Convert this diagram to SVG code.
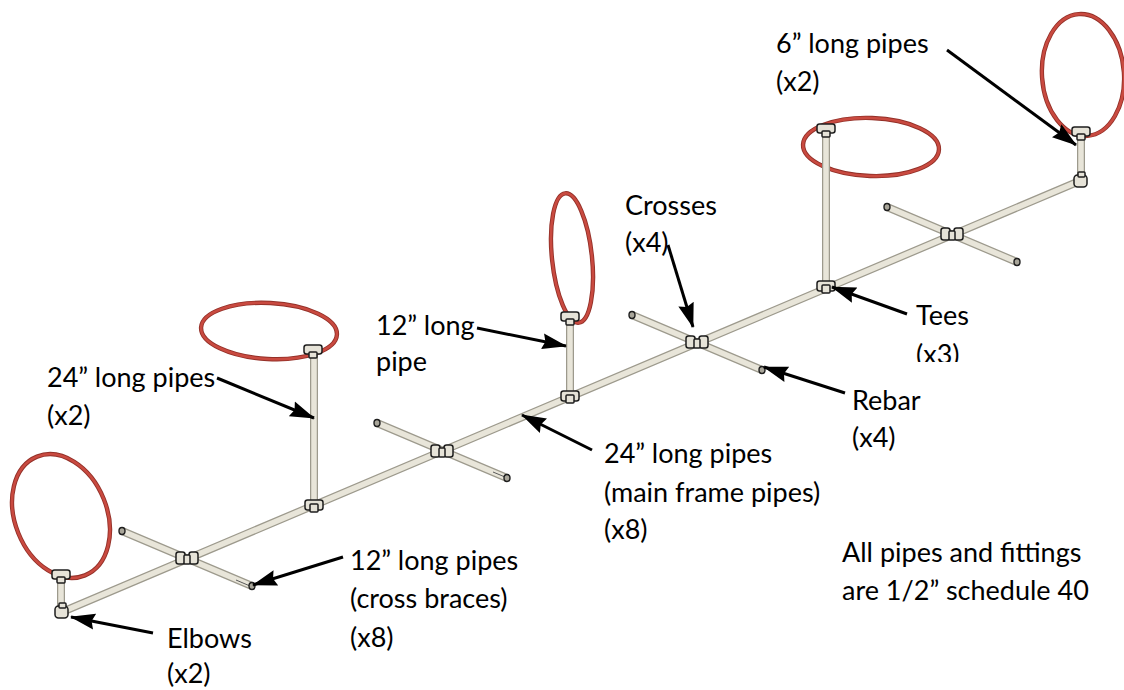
<svg xmlns="http://www.w3.org/2000/svg" xmlns:xlink="http://www.w3.org/1999/xlink" width="1124" height="690" viewBox="0 0 1124 690">
  <defs>
    <style>
      .pipe-o{fill:none;stroke:#9d9a8d;stroke-width:8;stroke-linecap:butt}
      .pipe{fill:none;stroke:#e8e5d9;stroke-width:5.5;stroke-linecap:butt}
      .hoop-o{fill:none;stroke:#933028;stroke-width:4.4}
      .hoop{fill:none;stroke:#c94a40;stroke-width:2.6}
      .fit{fill:#e6e3d8;stroke:#1e1e1e;stroke-width:1.5}
      .cap{fill:#a9a69a;stroke:#1e1e1e;stroke-width:1.4}
      .lbl{font-family:Lato,"Liberation Sans",sans-serif;font-size:27px;fill:#000}
      .arrow{fill:none;stroke:#000;stroke-width:3}
    </style>
    <marker id="head" markerWidth="26" markerHeight="18" refX="24" refY="9" orient="auto" markerUnits="userSpaceOnUse">
      <path d="M0,1 L25,9 L0,17 L3,9 Z" fill="#000"/>
    </marker>
    <!-- pipe centre lines: main run, uprights and cross braces -->
    <path id="pipeRun" d="M62,612 L1082,180
      M61,610 V578 M314,504 V354 M570,395 V321 M826,286 V131 M1081,180 V134
      M122,531 L252,586 M377,423 L507,478 M632,315 L762,370 M887,207 L1017,262"/>
    <!-- fitting shapes -->
    <g id="crossFit">
      <rect x="-11" y="-6" width="9" height="12" rx="2.5"/>
      <rect x="2" y="-6" width="9" height="12" rx="2.5"/>
      <rect x="-3" y="-3" width="6" height="9" rx="1"/>
    </g>
    <g id="teeFit">
      <rect x="-9" y="-5" width="18" height="10" rx="2.5"/>
      <rect x="-4" y="-1" width="8" height="8" rx="1"/>
    </g>
    <g id="topTee">
      <rect x="-9" y="-5" width="18" height="9" rx="2.5"/>
      <rect x="-4" y="2" width="8" height="6" rx="1"/>
    </g>
    <g id="elbowFit">
      <rect x="-7" y="-6" width="13" height="12" rx="3.5"/>
      <rect x="-3" y="-9" width="7" height="5" rx="1"/>
    </g>
  </defs>

  <rect width="1124" height="690" fill="#ffffff"/>

  <!-- red hoops -->
  <g id="hoops">
    <g transform="rotate(-22 61 516)">
      <ellipse class="hoop-o" cx="61" cy="516" rx="46" ry="64"/>
      <ellipse class="hoop" cx="61" cy="516" rx="46" ry="64"/>
    </g>
    <g transform="rotate(3 269 331)">
      <ellipse class="hoop-o" cx="269" cy="331" rx="68" ry="28"/>
      <ellipse class="hoop" cx="269" cy="331" rx="68" ry="28"/>
    </g>
    <g transform="rotate(-6 572 258)">
      <ellipse class="hoop-o" cx="572" cy="258" rx="20" ry="65"/>
      <ellipse class="hoop" cx="572" cy="258" rx="20" ry="65"/>
    </g>
    <g transform="rotate(2 871 147)">
      <ellipse class="hoop-o" cx="871" cy="147" rx="68" ry="29"/>
      <ellipse class="hoop" cx="871" cy="147" rx="68" ry="29"/>
    </g>
    <g transform="rotate(-4 1083 75)">
      <ellipse class="hoop-o" cx="1083" cy="75" rx="41" ry="61"/>
      <ellipse class="hoop" cx="1083" cy="75" rx="41" ry="61"/>
    </g>
  </g>

  <!-- PVC pipe frame -->
  <g id="frame">
    <use xlink:href="#pipeRun" class="pipe-o"/>
    <use xlink:href="#pipeRun" class="pipe"/>
    <!-- rebar showing through the brace ends -->
    <g stroke="#5a5a5a" stroke-width="1">
      <line x1="236" y1="580" x2="250" y2="586"/>
      <line x1="493" y1="472" x2="505" y2="477"/>
    </g>
    <g class="cap">
      <ellipse cx="122" cy="531" rx="3" ry="3.5"/>
      <ellipse cx="252" cy="586" rx="3" ry="3.5"/>
      <ellipse cx="377" cy="423" rx="3" ry="3.5"/>
      <ellipse cx="507" cy="478" rx="3" ry="3.5"/>
      <ellipse cx="632" cy="315" rx="3" ry="3.5"/>
      <ellipse cx="762" cy="370" rx="3" ry="3.5"/>
      <ellipse cx="887" cy="207" rx="3" ry="3.5"/>
      <ellipse cx="1017" cy="262" rx="3" ry="3.5"/>
    </g>
  </g>

  <!-- fittings -->
  <g id="fittings" class="fit">
    <use xlink:href="#elbowFit" x="62" y="612"/>
    <use xlink:href="#elbowFit" x="1081" y="181"/>
    <use xlink:href="#crossFit" x="187" y="558"/>
    <use xlink:href="#crossFit" x="442" y="451"/>
    <use xlink:href="#crossFit" x="697" y="342"/>
    <use xlink:href="#crossFit" x="952" y="234"/>
    <use xlink:href="#teeFit" x="314" y="505"/>
    <use xlink:href="#teeFit" x="570" y="396"/>
    <use xlink:href="#teeFit" x="826" y="286"/>
    <use xlink:href="#topTee" x="61" y="575"/>
    <use xlink:href="#topTee" x="313" y="350"/>
    <use xlink:href="#topTee" x="570" y="317"/>
    <use xlink:href="#topTee" x="826" y="129"/>
    <use xlink:href="#topTee" x="1081" y="132"/>
  </g>

  <!-- leader arrows -->
  <g id="connectors" class="arrow" marker-end="url(#head)">
    <line x1="947" y1="50" x2="1076" y2="145"/>
    <line x1="668" y1="245" x2="693" y2="327"/>
    <line x1="477" y1="328" x2="566" y2="346"/>
    <line x1="217" y1="378" x2="314" y2="418"/>
    <line x1="907" y1="314" x2="832" y2="287"/>
    <line x1="845" y1="393" x2="764" y2="367"/>
    <line x1="592" y1="450" x2="522" y2="415"/>
    <line x1="343" y1="557" x2="253" y2="585"/>
    <line x1="153" y1="633" x2="71" y2="617"/>
  </g>

  <!-- labels -->
  <g id="label-six" class="lbl">
    <text x="776" y="53">6” long pipes</text>
    <text x="776" y="91">(x2)</text>
  </g>
  <g id="label-crosses" class="lbl">
    <text x="625" y="215">Crosses</text>
    <text x="625" y="252">(x4)</text>
  </g>
  <g id="label-twelve" class="lbl">
    <text x="376" y="335">12” long</text>
    <text x="376" y="371">pipe</text>
  </g>
  <g id="label-upright" class="lbl">
    <text x="47" y="387">24” long pipes</text>
    <text x="47" y="425">(x2)</text>
  </g>
  <g id="label-tees" class="lbl">
    <clipPath id="teesClip"><rect x="900" y="280" width="120" height="82"/></clipPath>
    <g clip-path="url(#teesClip)">
      <text x="916" y="325">Tees</text>
      <text x="916" y="364">(x3)</text>
    </g>
  </g>
  <g id="label-rebar" class="lbl">
    <text x="852" y="410">Rebar</text>
    <text x="852" y="447">(x4)</text>
  </g>
  <g id="label-main" class="lbl">
    <text x="604" y="463">24” long pipes</text>
    <text x="604" y="502">(main frame pipes)</text>
    <text x="604" y="539">(x8)</text>
  </g>
  <g id="label-braces" class="lbl">
    <text x="350" y="570">12” long pipes</text>
    <text x="350" y="608">(cross braces)</text>
    <text x="350" y="647">(x8)</text>
  </g>
  <g id="label-elbows" class="lbl">
    <text x="167" y="648">Elbows</text>
    <text x="167" y="683">(x2)</text>
  </g>
  <g id="label-note" class="lbl">
    <text x="842" y="562">All pipes and fittings</text>
    <text x="842" y="600">are 1/2” schedule 40</text>
  </g>
</svg>
